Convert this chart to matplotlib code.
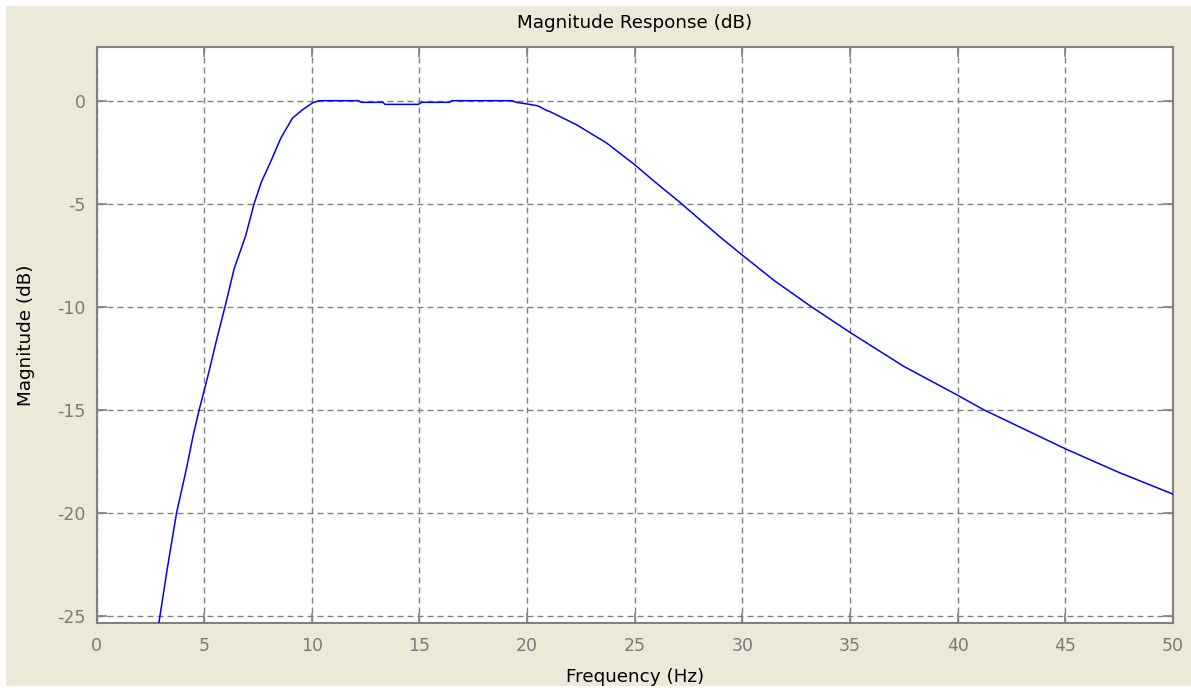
import matplotlib
matplotlib.use("Agg")
import matplotlib.pyplot as plt
from matplotlib.patches import Rectangle

plt.rcParams["axes.unicode_minus"] = False
plt.rcParams["font.family"] = ["DejaVu Sans"]

# magnitude response (Hz, dB)
freq = [2.80, 2.95, 3.29, 3.72, 3.85, 4.19, 4.50, 4.77, 5.19, 5.58, 5.97,
        6.39, 6.93, 7.32, 7.66, 8.09, 8.56, 9.10, 9.57, 10.03, 10.34,
        12.16, 12.3, 13.3, 13.4, 14.95, 15.1, 16.4, 16.5, 19.3, 19.5, 20.0,
        20.5, 20.9, 21.06, 22.3, 23.7, 25.0, 26.0, 27.0, 28.0, 29.0, 30.0,
        31.5, 33.2, 35.0, 37.5, 40.0, 41.2, 45.0, 47.5, 50.0]
mag_db = [-26.0, -25.0, -22.7, -20.0, -19.4, -17.8, -16.2, -15.0, -13.3, -11.6, -10.0,
          -8.17, -6.55, -5.0, -3.94, -2.96, -1.82, -0.85, -0.44, -0.11, 0.0,
          0.0, -0.08, -0.08, -0.18, -0.18, -0.08, -0.08, 0.0, 0.0, -0.08, -0.16,
          -0.25, -0.47, -0.53, -1.17, -2.06, -3.11, -4.0, -4.85, -5.75, -6.65, -7.5,
          -8.75, -10.0, -11.25, -12.9, -14.3, -15.0, -16.9, -18.05, -19.1]

x_ticks = [0, 5, 10, 15, 20, 25, 30, 35, 40, 45, 50]
y_ticks = [0, -5, -10, -15, -20, -25]

W, H = 1191, 688
fig = plt.figure(figsize=(W / 100, H / 100), dpi=100, facecolor="white")
# beige window background with thin white edge at top/left
fig.patches.append(Rectangle((6 / W, 2 / H), 1, (H - 8) / H, transform=fig.transFigure,
                             facecolor="#ECE9D8", edgecolor="none", zorder=-10))

ax = fig.add_axes([96.5 / W, 1 - 623.3 / H, (1173 - 96.5) / W, (623.3 - 46.7) / H])
ax.set_facecolor("white")
ax.plot(freq, mag_db, color="#0000FF", lw=1.1, zorder=3)

ax.set_xlim(0, 50)
ax.set_ylim(-25.37, 2.62)
ax.set_xticks(x_ticks)
ax.set_yticks(y_ticks)

ax.grid(True, color="#808080", linestyle=(0, (4.3, 2.9)), linewidth=1.0)
ax.tick_params(direction="in", length=7, width=1.2, color="#808080",
               labelcolor="#7a7a7a", labelsize=12.5, top=True, right=True, pad=8)
ax.tick_params(axis="x", pad=10)
for s in ax.spines.values():
    s.set_color("#808080")
    s.set_linewidth(1.5)

ax.set_title("Magnitude Response (dB)", fontsize=13.2, color="black", pad=13.5)
ax.set_xlabel("Frequency (Hz)", fontsize=13.2, color="black", labelpad=9)
ax.set_ylabel("Magnitude (dB)", fontsize=13.2, color="black", labelpad=16)

fig.savefig("out.png", dpi=100, facecolor=fig.get_facecolor())
